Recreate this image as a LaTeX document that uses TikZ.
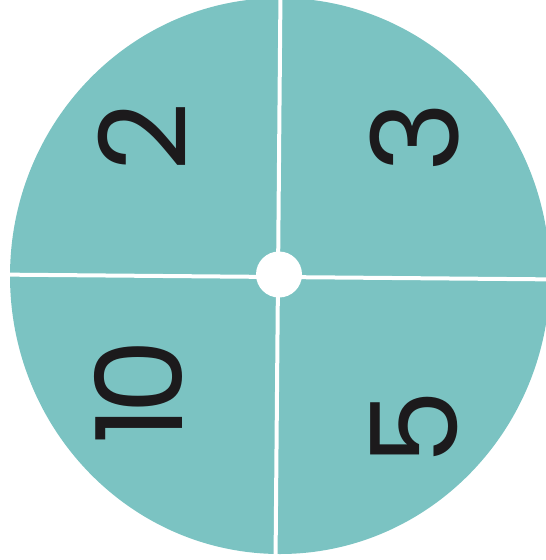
\documentclass[tikz,border=0pt]{standalone}
\usepackage{fontspec}
\setmainfont{Poppins}
\usepackage{tikz}
\definecolor{dialteal}{RGB}{123,195,194}
\definecolor{dialink}{RGB}{28,26,28}
\tikzset{
  dial digit/.style={
    text=dialink, inner sep=0pt, rotate=90,
    font=\fontsize{120}{120}\selectfont
  },
  dial split/.style={
    draw=white, line width=4pt
  }
}
\begin{document}
\begin{tikzpicture}[x=1pt, y=1pt]
\useasboundingbox (0,0) rectangle (546,-560);

% ====== DISC ======
\fill[dialteal] (280,-276) ellipse [x radius=270, y radius=278];

% -- white cross --
\begin{scope}
  \clip (280,-276) ellipse [x radius=270, y radius=278];
  \begin{scope}[rotate around={-0.5:(278,-277)}]
    \draw[dial split] (0,-277) -- (560,-277);
    \draw[dial split] (278,10) -- (278,-570);
  \end{scope}
\end{scope}

% -- centre hole --
\fill[white] (279,-274.5) circle (23);

% ====== DIGITS ======
\node[dial digit] (n2) at (142,-137) {2};
\node[dial digit] (n3) at (415,-137) {3};
\node[dial digit] (n10) at (138,-392) {1\kern-8pt0};
\node[dial digit] (n5) at (414,-428) {5};

\end{tikzpicture}
\end{document}
